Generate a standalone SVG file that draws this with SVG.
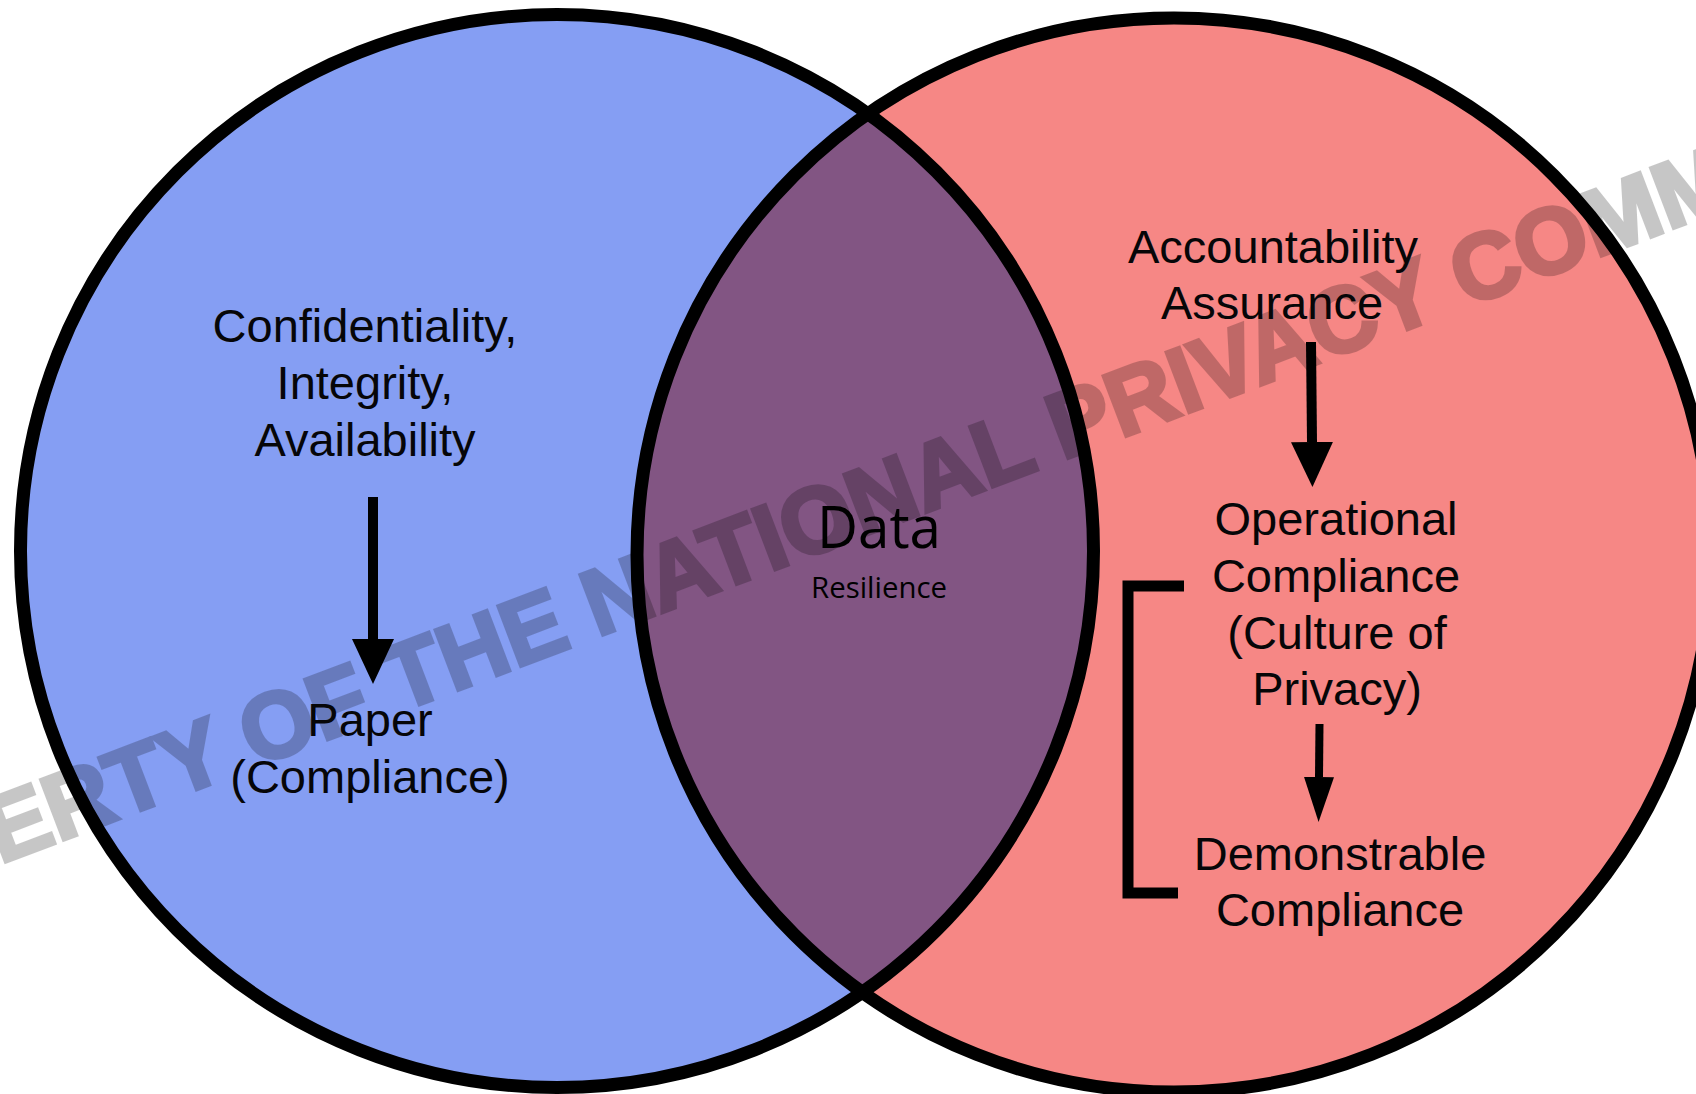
<svg xmlns="http://www.w3.org/2000/svg" width="1696" height="1094" viewBox="0 0 1696 1094">
<style>
.ring{fill:none;stroke:#000;stroke-width:13}
.t{font-family:"Liberation Sans",Arial,sans-serif;font-size:47px;fill:#060608;text-anchor:middle}
.d{font-family:"Open Sans","Noto Sans",sans-serif;fill:#000;text-anchor:middle}
.wm{font-family:"Liberation Sans",Arial,sans-serif;font-weight:bold;font-size:93px;fill:#000;stroke:#000;stroke-width:4;opacity:.22}
.c{fill:none;stroke:#000;stroke-width:10}
</style>
<defs>
<clipPath id="lensClip"><circle cx="557" cy="551" r="536.5"/></clipPath>
<marker id="headA" markerUnits="userSpaceOnUse" markerWidth="46" markerHeight="42" refX="0" refY="21" orient="auto"><path d="M0 0L45 21L0 42Z"/></marker>
<marker id="headB" markerUnits="userSpaceOnUse" markerWidth="46" markerHeight="30" refX="0" refY="15" orient="auto"><path d="M0 0L45 15L0 30Z"/></marker>
</defs>
<rect width="1696" height="1094" fill="#fff"/>
<g id="set-left"><circle cx="557" cy="551" r="536.5" fill="#859EF3"/></g>
<g id="set-right"><circle cx="1174" cy="555" r="537" fill="#F68785"/></g>
<g id="overlap"><circle cx="1174" cy="555" r="537" fill="#825583" clip-path="url(#lensClip)"/></g>
<g id="rings"><circle class="ring" cx="557" cy="551" r="536.5"/><circle class="ring" cx="1174" cy="555" r="537"/></g>
<text class="wm" transform="translate(0 864) rotate(-20.8)" xml:space="preserve">ERTY OF THE NATIONAL PRIVACY COMM</text>
<g id="connectors">
<line class="c" x1="373" y1="497" x2="373" y2="639" marker-end="url(#headA)"/>
<line class="c" x1="1311" y1="342" x2="1312" y2="442" marker-end="url(#headA)"/>
<line class="c" x1="1319.5" y1="724" x2="1319" y2="777" style="stroke-width:8" marker-end="url(#headB)"/>
<path class="c" d="M1184 586H1128V893H1178" style="stroke-width:11"/>
</g>
<g id="node-cia"><text class="t" x="365" y="342">Confidentiality,</text><text class="t" x="365" y="399">Integrity,</text><text class="t" x="365" y="456">Availability</text></g>
<g id="node-paper"><text class="t" x="370" y="736">Paper</text><text class="t" x="370" y="793">(Compliance)</text></g>
<g id="node-data"><text class="d" x="879" y="548" font-size="58" textLength="124" lengthAdjust="spacingAndGlyphs">Data</text><text class="d" x="879" y="598" font-size="30" textLength="136" lengthAdjust="spacingAndGlyphs">Resilience</text></g>
<g id="node-accountability"><text class="t" x="1273" y="263">Accountability</text><text class="t" x="1272" y="319">Assurance</text></g>
<g id="node-operational"><text class="t" x="1336" y="535">Operational</text><text class="t" x="1336" y="592">Compliance</text><text class="t" x="1337" y="649">(Culture of</text><text class="t" x="1337" y="705">Privacy)</text></g>
<g id="node-demonstrable"><text class="t" x="1340" y="870">Demonstrable</text><text class="t" x="1340" y="926">Compliance</text></g>
</svg>
